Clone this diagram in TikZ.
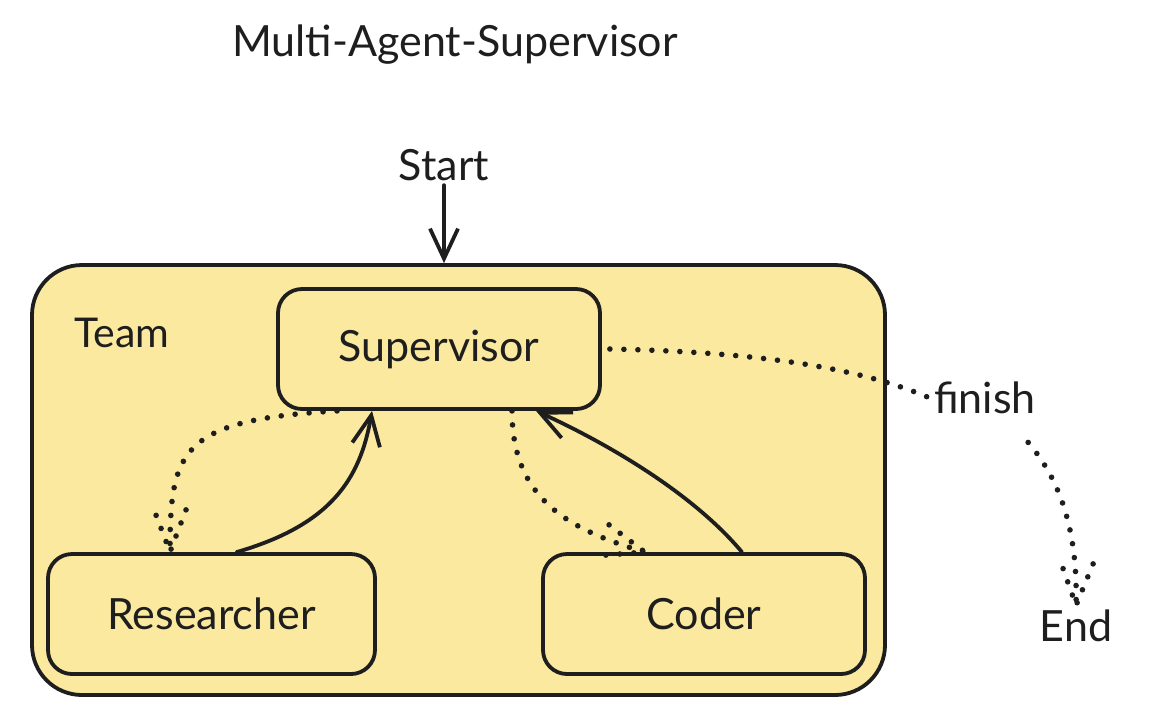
\documentclass[tikz,border=0pt]{standalone}
\usepackage{fontspec}
\setmainfont{Lato}
\usetikzlibrary{positioning,arrows.meta,decorations.markings}
\definecolor{teamfill}{RGB}{251,233,160}
\definecolor{ink}{RGB}{30,30,30}

\begin{document}
\begin{tikzpicture}[
		x=0.5pt, y=-0.5pt,
		box/.style={
			draw=ink,
			fill=teamfill,
			rounded corners=12pt,
			line width=1.9pt,
			minimum width=161pt,
			minimum height=60pt,
			text=ink,
			font=\fontsize{21.5}{26}\selectfont
		},
		txt/.style={
			text=ink,
			inner sep=2pt,
			font=\fontsize{21.5}{26}\selectfont
		},
		arr/.style={
			draw=ink,
			line width=1.9pt,
			line cap=round,
			-{Straight Barb[length=15pt,width=14pt]}
		},
		dots/.style={
			draw=ink,
			line width=2.8pt,
			line cap=round,
			dash pattern=on 0pt off 7pt
		},
		dotarr/.style={
			dots,
			postaction={decorate},
			decoration={markings, mark=at position 0.999 with {
				\draw[dots] (-21pt,8pt) -- (0,0) -- (-21pt,-8pt);}}
		}
		]
		
		\useasboundingbox (0,0) rectangle (1150,720);
		
		\node[box, minimum width=426.5pt, minimum height=215pt, rounded corners=25pt]
		(team) at (458.5,480) {};
		\node[txt, font=\fontsize{20.5}{24}\selectfont] (teamlbl) at (122,333) {Team};
		
		\node[txt] (title) at (455,45) {Multi-Agent-Supervisor};
		\node[txt] (start) at (444,165) {Start};
		
		\node[box] (sup) at (439,349) {Supervisor};
		\node[box, minimum width=163.5pt] (res) at (211.5,614) {Researcher};
		\node[box] (coder) at (704,614) {Coder};
		
		\node[txt] (finish) at (985,398) {finish};
		\node[txt] (end) at (1076,626) {End};
		
		\draw[arr] (start) -- (start |- team.north);
		
		% back to the supervisor
		\draw[arr] ([xshift=12.5pt]res.north) .. controls (330,525) and (360,480) .. ([xshift=-33.5pt]sup.south);
		\draw[arr] ([xshift=19pt]coder.north) .. controls (690,490) and (600,440) .. ([xshift=48.5pt]sup.south);
		
		% routing
		\draw[dotarr] ([xshift=-51pt]sup.south) .. controls (180,420) and (170,450) .. ([xshift=-20.75pt]res.north);
		\draw[dotarr] ([xshift=36.5pt]sup.south) .. controls (512,500) and (570,530) .. ([xshift=-29.5pt]coder.north);
		\draw[dots] ([xshift=4pt]sup.east) .. controls (760,352) and (860,368) .. (finish.west);
		\draw[dotarr] ([shift={(-6pt,-12pt)}]finish.south east) .. controls (1060,480) and (1078,530) .. (end.north);
		
\end{tikzpicture}
\end{document}
